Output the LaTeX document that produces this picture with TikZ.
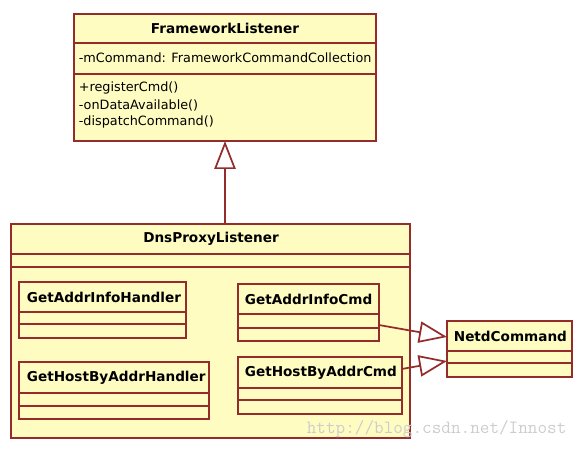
\documentclass[tikz,border=0pt]{standalone}
\usepackage{fontspec}
\setmainfont{DejaVu Sans}
\usetikzlibrary{arrows.meta}

\definecolor{umlfill}{RGB}{255,252,194}
\definecolor{umlline}{RGB}{148,44,44}
\definecolor{markgray}{RGB}{205,205,205}

\tikzset{every picture/.style={line width=1.3pt}}
\tikzset{
  cls/.style 2 args={draw=umlline, fill=umlfill, rectangle, inner sep=0pt, outer sep=0pt,
    anchor=north west, minimum width=#1*0.75pt, minimum height=#2*0.75pt},
  sepline/.style={draw=umlline},
  title/.style={font=\fontsize{10.2}{12}\selectfont\bfseries, inner sep=0.75pt},
  member/.style={font=\fontsize{9.6}{12}\selectfont, inner sep=0.75pt, anchor=west},
  inherit/.style={draw=umlline, -{Triangle[open, length=21pt, width=16pt]}}
}

\begin{document}
\begin{tikzpicture}[x=0.75pt,y=0.75pt,yscale=-1,xscale=1]
\useasboundingbox (0,0) rectangle (587,449);

% Class FrameworkListener
\node[cls={302}{127}] (fwl) at (74,14) {};
\draw[sepline] (74,43) -- (376,43);
\draw[sepline] (74,74) -- (376,74);
% Text Node
\node[title] (fwlname) at (225,28.5) {FrameworkListener};
\node[member] (fwlattr) at (77,58) {-mCommand: FrameworkCommandCollection};
\node[member] (fwlop1) at (77,88) {+registerCmd()};
\node[member] (fwlop2) at (77,105) {-onDataAvailable()};
\node[member] (fwlop3) at (77,122) {-dispatchCommand()};

% Class DnsProxyListener
\node[cls={399}{214}] (dpl) at (11,224) {};
\draw[sepline] (11,254) -- (410,254);
\draw[sepline] (11,267) -- (410,267);
% Text Node
\node[title] (dplname) at (211,239) {DnsProxyListener};

% Class GetAddrInfoHandler
\node[cls={167}{56}] (gaih) at (19,282) {};
\draw[sepline] (19,312) -- (186,312);
\draw[sepline] (19,324) -- (186,324);
\node[title, anchor=west] (gaihname) at (25,297) {GetAddrInfoHandler};

% Class GetHostByAddrHandler
\node[cls={190}{57}] (ghbah) at (19,362) {};
\draw[sepline] (19,393) -- (209,393);
\draw[sepline] (19,406) -- (209,406);
\node[title, anchor=west] (ghbahname) at (25,377.5) {GetHostByAddrHandler};

% Class GetAddrInfoCmd
\node[cls={141}{57}] (gaic) at (238,284) {};
\draw[sepline] (238,314) -- (379,314);
\draw[sepline] (238,328) -- (379,328);
\node[title, anchor=west] (gaicname) at (243,299) {GetAddrInfoCmd};

% Class GetHostByAddrCmd
\node[cls={164}{57}] (ghbac) at (238,357) {};
\draw[sepline] (238,388) -- (402,388);
\draw[sepline] (238,400) -- (402,400);
\node[title, anchor=west] (ghbacname) at (243,372.5) {GetHostByAddrCmd};

% Class NetdCommand
\node[cls={125}{56}] (netd) at (447,321) {};
\draw[sepline] (447,351) -- (572,351);
\draw[sepline] (447,363) -- (572,363);
\node[title, anchor=west] (netdname) at (452,336) {NetdCommand};

%Straight Lines
\draw[inherit] (fwl.south |- dpl.north) -- (fwl.south);
\draw[inherit] ([yshift=9.4pt]gaic.east) -- ([yshift=-9pt]netd.west);
\draw[inherit] ([yshift=-12.4pt]ghbac.east) -- ([yshift=9pt]netd.west);

% Text Node
\node[font=\fontsize{14}{16}\selectfont\ttfamily, text=markgray, anchor=west, inner sep=0pt] (mark) at (306,429) {http://blog.csdn.net/Innost};

\end{tikzpicture}
\end{document}
